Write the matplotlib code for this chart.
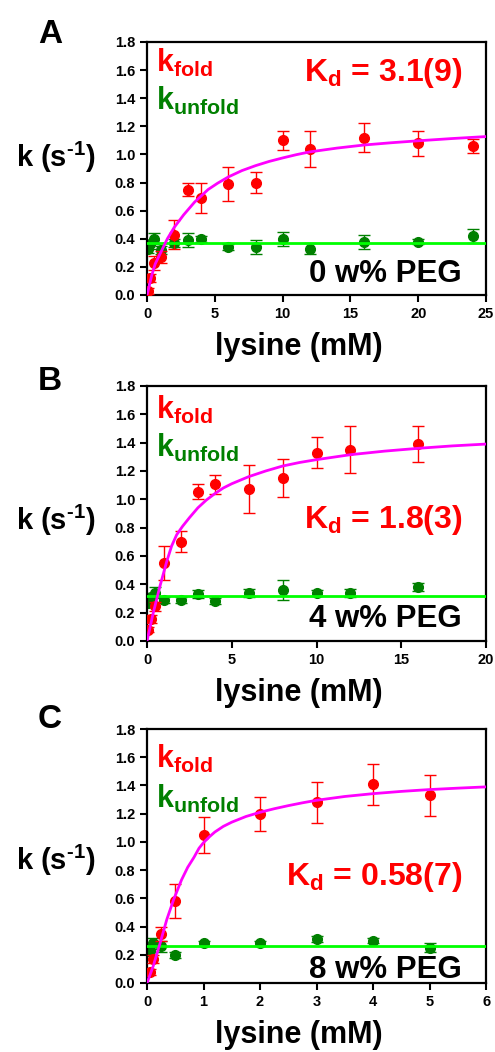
import matplotlib
matplotlib.use("Agg")
import matplotlib.pyplot as plt

plt.rcParams['font.family'] = ['Liberation Sans', 'DejaVu Sans']
plt.rcParams['font.weight'] = 'bold'
plt.rcParams['mathtext.fontset'] = 'custom'
plt.rcParams['mathtext.rm'] = 'Liberation Sans:bold'
plt.rcParams['mathtext.it'] = 'Liberation Sans:bold'
plt.rcParams['mathtext.bf'] = 'Liberation Sans:bold'

# panel A, 0 w% PEG
a_x = [0.1, 0.25, 0.5, 1, 2, 3, 4, 6, 8, 10, 12, 16, 20, 24]
a_fold = [0.03, 0.12, 0.23, 0.27, 0.43, 0.75, 0.69, 0.79, 0.80, 1.10, 1.04, 1.12, 1.08, 1.06]
a_fold_err = [0.02, 0.03, 0.05, 0.04, 0.10, 0.045, 0.11, 0.12, 0.075, 0.065, 0.13, 0.10, 0.09, 0.05]
a_unfold = [0.33, 0.36, 0.40, 0.32, 0.37, 0.39, 0.40, 0.34, 0.34, 0.40, 0.33, 0.38, 0.38, 0.42]
a_unfold_err = [0.03, 0.03, 0.04, 0.03, 0.03, 0.05, 0.02, 0.02, 0.05, 0.05, 0.04, 0.05, 0.02, 0.05]
a_fit_x = [0, 0.15, 0.35, 0.6, 1.0, 1.5, 2.0, 2.7, 3.5, 4.5, 5.2, 6, 7, 8, 9, 10, 11, 12, 14, 16, 18, 20, 22.5, 25]
a_fit_y = [0, 0.059, 0.14, 0.22, 0.30, 0.40, 0.48, 0.57, 0.66, 0.75, 0.795, 0.84, 0.885, 0.92, 0.95, 0.975,
           0.998, 1.018, 1.045, 1.067, 1.083, 1.097, 1.113, 1.127]
a_level = 0.37

# panel B, 4 w% PEG
b_x = [0.05, 0.25, 0.5, 1, 2, 3, 4, 6, 8, 10, 12, 16]
b_fold = [0.08, 0.155, 0.245, 0.55, 0.70, 1.055, 1.105, 1.07, 1.15, 1.33, 1.35, 1.39]
b_fold_err = [0.02, 0.03, 0.03, 0.12, 0.075, 0.055, 0.07, 0.17, 0.135, 0.11, 0.165, 0.13]
b_unfold = [0.27, 0.31, 0.34, 0.29, 0.29, 0.33, 0.28, 0.34, 0.36, 0.34, 0.34, 0.38]
b_unfold_err = [0.03, 0.03, 0.04, 0.02, 0.02, 0.03, 0.02, 0.03, 0.07, 0.02, 0.03, 0.03]
b_fit_x = [0, 0.37, 0.77, 1.16, 1.45, 1.75, 2.1, 2.5, 3, 3.5, 4, 4.5, 5, 6, 7, 8, 9, 10, 12, 14, 16, 18, 20]
b_fit_y = [0, 0.20, 0.39, 0.56, 0.67, 0.75, 0.81, 0.87, 0.94, 0.995, 1.04, 1.08, 1.11, 1.16, 1.20, 1.235,
           1.26, 1.28, 1.315, 1.34, 1.36, 1.377, 1.39]
b_level = 0.32

# panel C, 8 w% PEG
c_x = [0.05, 0.1, 0.25, 0.5, 1, 2, 3, 4, 5]
c_fold = [0.08, 0.17, 0.35, 0.58, 1.05, 1.20, 1.28, 1.41, 1.33]
c_fold_err = [0.02, 0.03, 0.05, 0.12, 0.13, 0.12, 0.145, 0.145, 0.145]
c_unfold = [0.23, 0.28, 0.26, 0.20, 0.28, 0.28, 0.31, 0.30, 0.25]
c_unfold_err = [0.04, 0.04, 0.04, 0.02, 0.02, 0.02, 0.02, 0.02, 0.03]
c_fit_x = [0, 0.11, 0.23, 0.35, 0.47, 0.61, 0.72, 0.83, 0.92, 1.0, 1.1, 1.2, 1.35, 1.5, 1.75, 2,
           2.25, 2.5, 2.75, 3, 3.5, 4, 4.5, 5, 5.5, 6]
c_fit_y = [0, 0.12, 0.28, 0.45, 0.59, 0.73, 0.82, 0.89, 0.955, 0.995, 1.035, 1.07, 1.11, 1.14, 1.18, 1.21,
           1.235, 1.257, 1.277, 1.295, 1.322, 1.342, 1.358, 1.371, 1.381, 1.39]
c_level = 0.26

panel_letters = ['A', 'B', 'C']
kd_labels = ['3.1(9)', '1.8(3)', '0.58(7)']
peg_labels = ['0 w% PEG', '4 w% PEG', '8 w% PEG']
x_max = [25, 20, 6]
x_step = [5, 5, 1]

fig = plt.figure(figsize=(4.95, 10.52), dpi=100)

# axes rectangles in figure fractions (left, bottom, width, height)
rects = [(0.297, 0.7196, 0.685, 0.2405),
         (0.297, 0.3907, 0.685, 0.2424),
         (0.297, 0.0656, 0.685, 0.2414)]
letter_y = [0.959, 0.629, 0.308]
kd_y = [0.846, 0.443, 0.386]
peg_y = [0.051, 0.056, 0.02]
fold_y = [0.88, 0.87, 0.846]
unfold_y = [0.73, 0.72, 0.69]
ylab_y = [0.506, 0.435, 0.445]

data = [(a_x, a_fold, a_fold_err, a_unfold, a_unfold_err, a_fit_x, a_fit_y, a_level),
        (b_x, b_fold, b_fold_err, b_unfold, b_unfold_err, b_fit_x, b_fit_y, b_level),
        (c_x, c_fold, c_fold_err, c_unfold, c_unfold_err, c_fit_x, c_fit_y, c_level)]

for i, (x, fold, fold_err, unfold, unfold_err, fit_x, fit_y, level) in enumerate(data):
    ax = fig.add_axes(rects[i])

    # data with error bars
    ax.errorbar(x, unfold, yerr=unfold_err, fmt='o', color='#008000', ms=7,
                mec='#008000', elinewidth=1, capsize=4, capthick=1, zorder=2)
    ax.errorbar(x, fold, yerr=fold_err, fmt='o', color='#ff0000', ms=7,
                mec='#ff0000', elinewidth=1, capsize=4, capthick=1, zorder=3)

    # fits
    ax.plot([0, x_max[i]], [level, level], color='#00ff00', lw=2, zorder=4)
    ax.plot(fit_x, fit_y, color='#ff00ff', lw=2, zorder=5, solid_joinstyle='round')

    ax.set_xlim(0, x_max[i])
    ax.set_ylim(0, 1.8)
    ax.set_xticks(range(0, x_max[i] + 1, x_step[i]))
    ax.set_yticks([j * 0.2 for j in range(10)])
    ax.set_yticklabels([f'{j * 0.2:.1f}' for j in range(10)])
    ax.tick_params(direction='out', length=5, width=1.5, labelsize=10.5)
    for lbl in ax.get_xticklabels() + ax.get_yticklabels():
        lbl.set_fontweight('bold')
    for sp in ax.spines.values():
        sp.set_linewidth(1.6)

    ax.text(0.027, fold_y[i], r'$\mathrm{k_{fold}}$', transform=ax.transAxes,
            color='#ff0000', fontsize=22, va='baseline', ha='left')
    ax.text(0.027, unfold_y[i], r'$\mathrm{k_{unfold}}$', transform=ax.transAxes,
            color='#008000', fontsize=22, va='baseline', ha='left')
    ax.text(0.929, kd_y[i], r'$\mathrm{K_d}$ = ' + kd_labels[i], transform=ax.transAxes,
            color='#ff0000', fontsize=23, fontweight='bold', va='baseline', ha='right')
    ax.text(0.929, peg_y[i], peg_labels[i], transform=ax.transAxes,
            color='black', fontsize=22.5, fontweight='bold', va='baseline', ha='right')

    ax.text(0.448, -0.237, 'lysine (mM)', transform=ax.transAxes,
            fontsize=22, fontweight='bold', va='baseline', ha='center')
    ax.text(-0.268, ylab_y[i], 'k (s$^{\u2010\\mathrm{1}}$)', transform=ax.transAxes,
            fontsize=21, fontweight='bold', va='baseline', ha='center')

    fig.text(0.077, letter_y[i], panel_letters[i], fontsize=24, fontweight='bold',
             va='baseline', ha='left')

fig.savefig('out.png', dpi=100)
